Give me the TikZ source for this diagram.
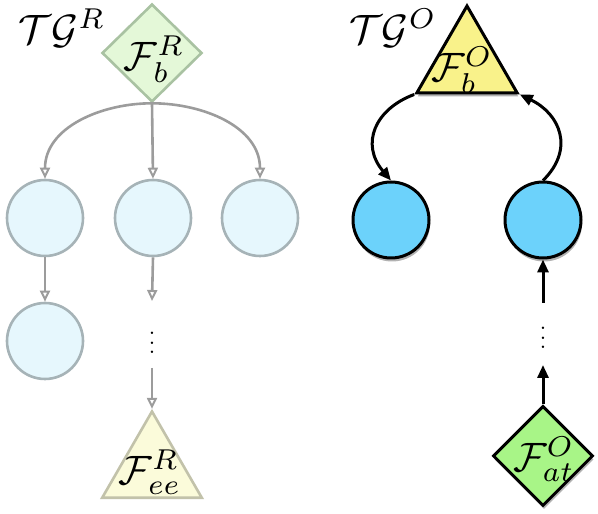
\documentclass[tikz,border=0pt]{standalone}
\usetikzlibrary{shapes.geometric,arrows.meta,shadows}
\definecolor{fdiamfill}{HTML}{E4F8D8}
\definecolor{fdiamdraw}{HTML}{A9C2A2}
\definecolor{fcircfill}{HTML}{E6F7FD}
\definecolor{fcircdraw}{HTML}{A6B3B7}
\definecolor{ftrifill}{HTML}{FBFBDA}
\definecolor{ftridraw}{HTML}{C2C2AA}
\definecolor{farrow}{HTML}{9C9C9C}
\definecolor{otrifill}{HTML}{F9F28A}
\definecolor{ocircfill}{HTML}{6CD2FB}
\definecolor{odiamfill}{HTML}{A8F587}
\begin{document}
\begin{tikzpicture}[x=1pt,y=1pt,
  bigtext/.style={inner sep=0pt, scale=4.1},
  vdotsnode/.style={inner sep=0pt, scale=2.3},
  oshadow/.style={drop shadow={shadow xshift=1pt, shadow yshift=-3.5pt, opacity=0.3, fill=black}},
  fdiam/.style={diamond, draw=fdiamdraw, fill=fdiamfill, line width=2.6pt, inner sep=0pt, minimum width=100pt, minimum height=98pt},
  fcirc/.style={circle, draw=fcircdraw, fill=fcircfill, line width=2.6pt, inner sep=0pt, minimum size=76pt},
  ftri/.style={regular polygon, regular polygon sides=3, draw=ftridraw, fill=ftrifill, line width=2.6pt, inner sep=0pt, minimum size=115pt},
  otri/.style={regular polygon, regular polygon sides=3, draw=black, fill=otrifill, line width=3pt, inner sep=0pt, minimum size=116pt, oshadow},
  ocirc/.style={circle, draw=black, fill=ocircfill, line width=3pt, inner sep=0pt, minimum size=76pt, oshadow},
  odiam/.style={diamond, draw=black, fill=odiamfill, line width=3pt, inner sep=0pt, minimum width=100pt, minimum height=100pt, oshadow},
  farr/.style={draw=farrow, line width=2.6pt, -{Triangle[open, length=11pt, width=10pt, line width=2pt]}},
  oarr/.style={draw=black, line width=3pt, -{Triangle[length=13pt, width=11pt]}}
]
\useasboundingbox (0,0) rectangle (598,514);
% ---- left graph ----
\node[bigtext] (lblR) at (62,486) {$\mathcal{T}\mathcal{G}^R$};
\node[fdiam] (dR) at (152,461) {};
\node[bigtext] (tdR) at (154,455) {$\mathcal{F}_b^R$};
\node[fcirc] (c1) at (45,296) {};
\node[fcirc] (c2) at (153,296) {};
\node[fcirc] (c3) at (260,296) {};
\node[fcirc] (c4) at (45,173) {};
\node[vdotsnode] (dotsL) at (152,178) {$\vdots$};
\node[ftri] (tR) at (152,45) {};
\node[bigtext] (ttR) at (150,42) {$\mathcal{F}_{ee}^R$};
\coordinate (aL1) at (152,213);
\coordinate (aL2) at (152,146);
\draw[farr] (dR.south) to[out=180,in=90] (c1.north);
\draw[farr] (dR.south) -- (c2.north);
\draw[farr] (dR.south) to[out=0,in=90] (c3.north);
\draw[farr] (c1.south) -- (c4.north);
\draw[farr] (c2.south) -- (aL1);
\draw[farr] (aL2) -- (tR.corner 1);
% ---- right graph ----
\node[bigtext] (lblO) at (393,486) {$\mathcal{T}\mathcal{G}^O$};
\node[otri] (tO) at (467,450) {};
\node[bigtext] (ttO) at (462,444) {$\mathcal{F}_b^O$};
\node[ocirc] (b1) at (391,294) {};
\node[ocirc] (b2) at (543,294) {};
\node[vdotsnode] (dotsR) at (543,183) {$\vdots$};
\node[odiam] (dO) at (543,58) {};
\node[bigtext] (tdO) at (544,55) {$\mathcal{F}_{at}^O$};
\coordinate (aR1) at (543,211);
\coordinate (aR2) at (543,149);
\draw[oarr] (tO.corner 2) .. controls (375,405) and (360,370) .. (b1.north);
\draw[oarr] (b2.north) .. controls (575,365) and (560,400) .. (tO.corner 3);
\draw[oarr] (aR1) -- (b2.south);
\draw[oarr] (dO.north) -- (aR2);
\end{tikzpicture}
\end{document}
